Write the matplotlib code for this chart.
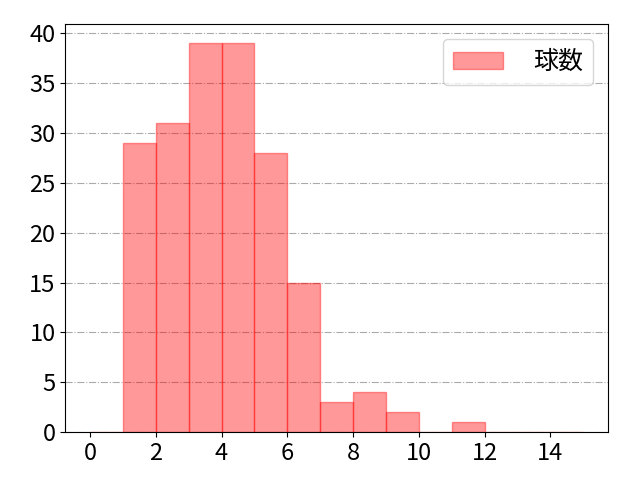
import numpy as np
import matplotlib.pyplot as plt

plt.rcParams['font.family'] = ['Noto Sans CJK JP', 'DejaVu Sans']

bin_edges = list(range(0, 16))
counts = [0, 29, 31, 39, 39, 28, 15, 3, 4, 2, 0, 1, 0, 0, 0]
label = '球数'

fig, ax = plt.subplots(figsize=(6.4, 4.8), dpi=100)

ax.hist(bin_edges[:-1], bins=bin_edges, weights=counts,
        color='red', alpha=0.4, edgecolor='red', linewidth=1.0, label=label)

ax.grid(axis='y', linestyle='-.', color='#aaaaaa', linewidth=0.8)
ax.set_axisbelow(True)
ax.set_xticks(range(0, 16, 2))
ax.set_yticks(range(0, 41, 5))
ax.tick_params(labelsize=17)
ax.legend(loc='upper right', fontsize=18, borderaxespad=0.6, handletextpad=1.2)

fig.subplots_adjust(left=0.102, right=0.95, top=0.95, bottom=0.1)
plt.savefig('out.png')
